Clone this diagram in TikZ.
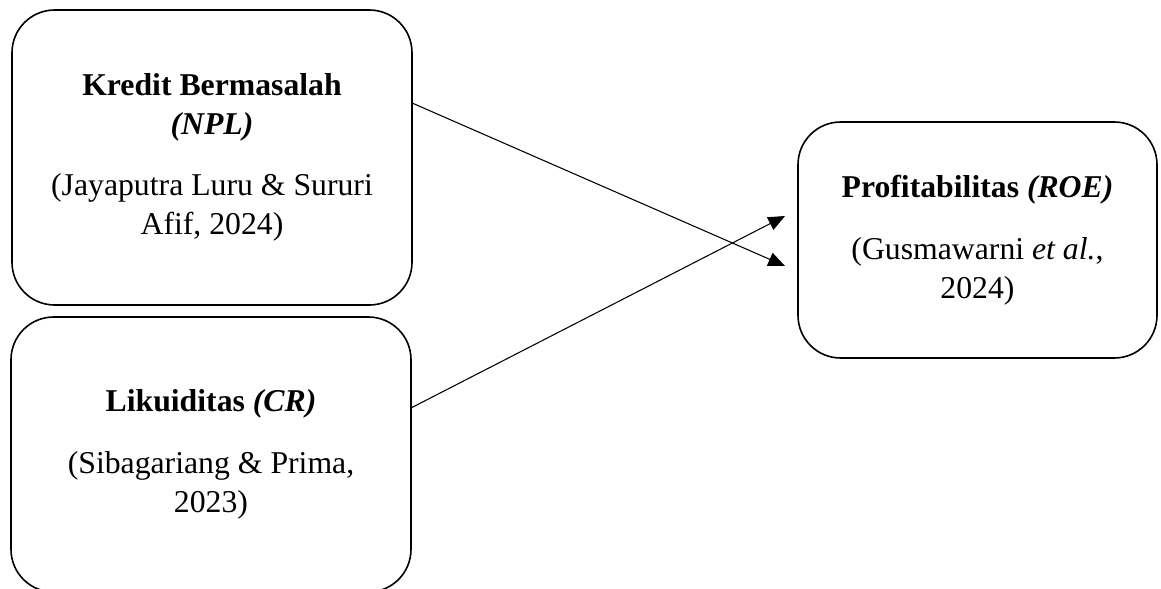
\documentclass[tikz,border=0pt]{standalone}
\usepackage{fontspec}
\setmainfont{Liberation Serif}
\usetikzlibrary{arrows.meta}

\tikzset{
  varbox/.style={draw, line width=1.2pt, rounded corners=32pt, align=center,
    outer sep=0pt, inner sep=0pt, font=\fontsize{23.8}{29.2}\selectfont},
  link/.style={line width=0.8pt, -{Triangle[length=12.5pt,width=10.5pt]}}
}

\begin{document}
\begin{tikzpicture}[x=0.75pt, y=-0.75pt]
          \useasboundingbox (0,0) rectangle (1161,589);

          \node[varbox, minimum width=300pt, minimum height=221.25pt] (npl) at (212,157.5)
                {\textbf{Kredit Bermasalah}\\ \textbf{\textit{(NPL)}}\\[17pt]
                 (Jayaputra Luru \& Sururi\\ Afif, 2024)};

          \node[varbox, minimum width=300pt, minimum height=206.25pt] (cr) at (211,454.5)
                {\textbf{Likuiditas \textit{(CR)}}\\[17pt]
                 (Sibagariang \& Prima,\\ 2023)};

          \node[varbox, minimum width=269.25pt, minimum height=177pt] (roe) at (977.5,240)
                {\textbf{Profitabilitas \textit{(ROE)}}\\[17pt]
                 (Gusmawarni \textit{et al.},\\ 2024)};

          \draw[link] ([yshift=40.9pt]npl.east) -- ([xshift=-9.75pt,yshift=-19.5pt]roe.west);
          \draw[link] ([yshift=34.9pt]cr.east) -- ([xshift=-9.75pt,yshift=18pt]roe.west);

        \end{tikzpicture}
\end{document}
